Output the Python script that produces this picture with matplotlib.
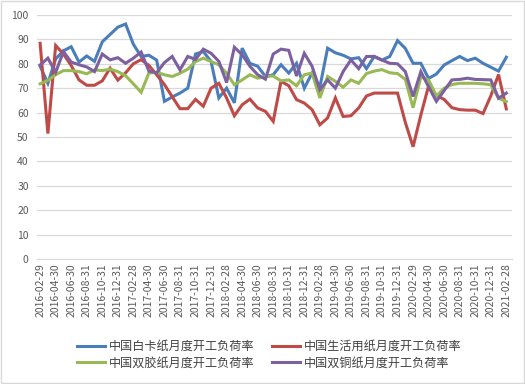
import numpy as np
import pandas as pd
import matplotlib
matplotlib.use('Agg')
import matplotlib.pyplot as plt
import matplotlib.transforms as mtransforms
from matplotlib.patches import Rectangle

plt.rcParams['font.family'] = ['Noto Sans CJK SC', 'DejaVu Sans']

# 月度日期 2016-02 ~ 2021-02
dates = pd.date_range('2016-02-29', periods=61, freq='ME').strftime('%Y-%m-%d').tolist()

baika = [79, 72, 82, 85.3, 87, 80.7, 83.2, 81, 89, 92, 95, 96.3, 88, 83, 83.5, 81.5,
         64.6, 66.4, 68, 70, 84, 85, 81, 66, 70, 64, 86.4, 80.2, 79, 74.8, 75.5,
         79.6, 76.2, 80.2, 70, 76.2, 70.4, 86.4, 84.5, 83.5, 82, 82.5, 78, 83, 81.5,
         83, 89.5, 86.3, 80.2, 80.2, 74, 75.8, 79.5, 81.3, 83, 81.3, 82.3, 80.2,
         78.6, 77, 82.7]
shenghuo = [88.4, 51.4, 87.5, 84, 79.3, 73.4, 71.2, 71.2, 73, 78.2, 73.3, 76.3, 80,
            81.7, 79.3, 75.5, 71.5, 66.5, 61.6, 61.6, 65.4, 62.6, 70, 72, 66, 58.7,
            63.2, 65.5, 61.9, 60.5, 56.4, 72.8, 71, 65.3, 63.9, 61.2, 55, 57.8, 66,
            58.4, 58.7, 61.9, 66.8, 68, 68, 68, 68, 56, 46, 59, 71, 67, 65.4, 62,
            61.2, 61, 61, 59.6, 66.8, 75.6, 61.5]
shuangjiao = [71.8, 73.2, 75.5, 77.2, 77.2, 76.8, 75.9, 77.5, 77.2, 77.8, 76.8, 75.1,
              71.8, 68.3, 76.2, 76.5, 75.5, 74.8, 76.1, 77.8, 80.9, 82.3, 80.9, 79.6,
              76.1, 71.4, 73.4, 75.5, 74.1, 74.8, 75, 73, 73.4, 71, 75.5, 76.2, 66,
              74.8, 72.8, 70.4, 73.4, 72, 76, 77, 77.6, 76.3, 76, 73.6, 62, 74.6,
              73.4, 66.8, 70, 71.5, 72, 72, 72, 71.8, 71.4, 65.9, 64.5]
shuangtong = [79.5, 82.3, 76.5, 85, 80.7, 79.6, 78.7, 76.8, 84, 81.6, 82.5, 80.2, 82.3,
              84.8, 77, 76.3, 80.5, 83, 77.5, 83, 81.8, 86, 84.3, 81, 72.3, 86.8, 83.7,
              79, 75.5, 73.7, 84, 86, 85.5, 75, 84.3, 79, 69.3, 73.4, 70, 76.8, 81.6,
              78, 83, 83, 81.5, 80.2, 80, 76.8, 66.6, 76.8, 70.5, 64.6, 69, 73.4, 73.6,
              74.1, 73.6, 73.5, 73.4, 65.9, 68]

names = ['中国白卡纸月度开工负荷率', '中国生活用纸月度开工负荷率',
         '中国双胶纸月度开工负荷率', '中国双铜纸月度开工负荷率']
colors = ['#4A7EBB', '#BE4B48', '#98B954', '#7D60A0']

fig = plt.figure(figsize=(5.25, 3.84), dpi=100)
ax = fig.add_axes([0.0705, 0.3255, 0.905, 0.6355])

x = np.arange(len(dates))
lines = []
for ys, nm, c in zip([baika, shenghuo, shuangjiao, shuangtong], names, colors):
    ln, = ax.plot(x, ys, color=c, lw=2.2, label=nm, solid_joinstyle='miter')
    lines.append(ln)

ax.set_ylim(0, 100)
ax.set_yticks(np.arange(0, 101, 10))
ax.set_xlim(-0.4, 60.75)
ax.set_xticks(x[::2])
ax.set_xticklabels(dates[::2], rotation=90, fontsize=7.5, color='#595959')
# Excel 的标签略微偏右
offset = mtransforms.ScaledTranslation(5 / 100, 0, fig.dpi_scale_trans)
for lab in ax.get_xticklabels():
    lab.set_transform(lab.get_transform() + offset)
ax.tick_params(axis='y', labelsize=7.5, labelcolor='#595959', length=0, pad=6)
ax.tick_params(axis='x', length=0, pad=3)
ax.grid(axis='y', color='#D9D9D9', lw=0.9)
ax.set_axisbelow(True)
for s in ['top', 'right', 'left']:
    ax.spines[s].set_visible(False)
ax.spines['bottom'].set_color('#D9D9D9')

order = [0, 2, 1, 3]
fig.legend([lines[i] for i in order], [names[i] for i in order],
           loc='center', bbox_to_anchor=(0.513, 0.076), ncol=2, frameon=False,
           fontsize=8.7, handlelength=2.3, handletextpad=0.35, columnspacing=1.4,
           labelspacing=0.3, labelcolor='#404040')

fig.patches.append(Rectangle((0.002, 0.002), 0.996, 0.996, transform=fig.transFigure,
                             fill=False, edgecolor='#D9D9D9', lw=1))

fig.savefig('out.png', dpi=100)
